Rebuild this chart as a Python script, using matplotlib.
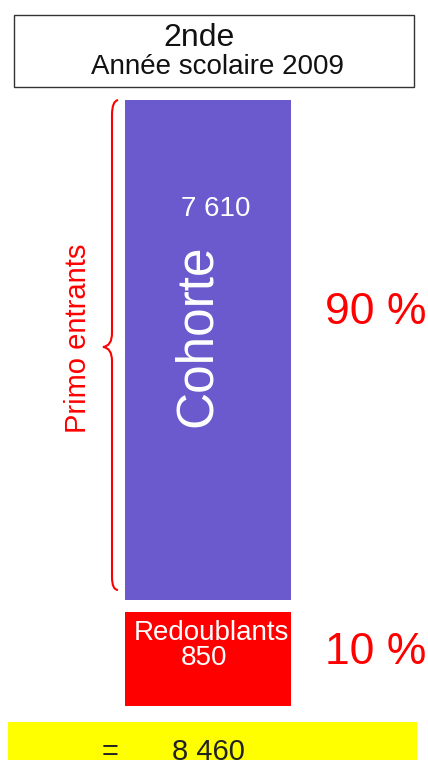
import matplotlib.pyplot as plt
from matplotlib.path import Path
from matplotlib.patches import PathPatch, Rectangle

plt.rcParams['font.family'] = ['Liberation Sans', 'DejaVu Sans']

# donnees
niveau = "2nde"
annee = "Année scolaire 2009"
categories = ["Cohorte", "Redoublants"]
effectifs = [7610, 850]
pourcentages = [90, 10]
total = 8460
couleurs = ["#6A5ACD", "#FF0000"]


def fmt(n):
    return f"{n:,}".replace(",", " ")


fig = plt.figure(figsize=(4.28, 7.6), dpi=100)
ax = fig.add_axes([0, 0, 1, 1])
ax.set_xlim(0, 428)
ax.set_ylim(760, 0)
ax.axis("off")

# mise en page (pixels), pas proportionnelle aux effectifs dans l'original
bar_x = 208
bar_w = 166
bar_top = [100, 612]
bar_h = [500, 94]

ax.bar([bar_x, bar_x], bar_h, bottom=bar_top, width=bar_w, color=couleurs)

# titre
ax.add_patch(Rectangle((14, 15), 400, 72, fill=False, edgecolor="#333333", lw=1))
ax.text(199, 38, niveau, ha="center", va="center", fontsize=23, color="#111111")
ax.text(218, 67, annee, ha="center", va="center", fontsize=20, color="#111111")

# cohorte
ax.text(216, 209, fmt(effectifs[0]), ha="center", va="center", fontsize=20, color="white")
ax.text(197, 336, categories[0], ha="center", va="center", rotation=90,
        fontsize=37, color="white")
ax.text(376, 312, f"{pourcentages[0]} %", ha="center", va="center", fontsize=32, color="red")

# redoublants
ax.text(134, 633, categories[1], ha="left", va="center", fontsize=20, color="white")
ax.text(204, 658, fmt(effectifs[1]), ha="center", va="center", fontsize=20, color="white")
ax.text(376, 652, f"{pourcentages[1]} %", ha="center", va="center", fontsize=32, color="red")

# accolade
verts = [(118, 100), (112, 101), (112, 115),
         (112, 333),
         (112, 346), (103, 347),
         (112, 348), (112, 361),
         (112, 577),
         (112, 590), (118, 590)]
codes = [Path.MOVETO, Path.CURVE3, Path.CURVE3,
         Path.LINETO,
         Path.CURVE3, Path.CURVE3,
         Path.CURVE3, Path.CURVE3,
         Path.LINETO,
         Path.CURVE3, Path.CURVE3]
ax.add_patch(PathPatch(Path(verts, codes), fill=False, edgecolor="red", lw=1.5))
ax.text(78, 338, "Primo entrants", ha="center", va="center", rotation=90,
        fontsize=21, color="red")

# total (coupe en bas comme dans l'original)
ax.add_patch(Rectangle((8, 722), 409, 40, facecolor="#FFFF00", edgecolor="none"))
ax.text(110, 752, "=", ha="center", va="center", fontsize=21, color="#222222")
ax.text(208, 752, fmt(total), ha="center", va="center", fontsize=21, color="#222222")

fig.savefig("out.png", dpi=100)
